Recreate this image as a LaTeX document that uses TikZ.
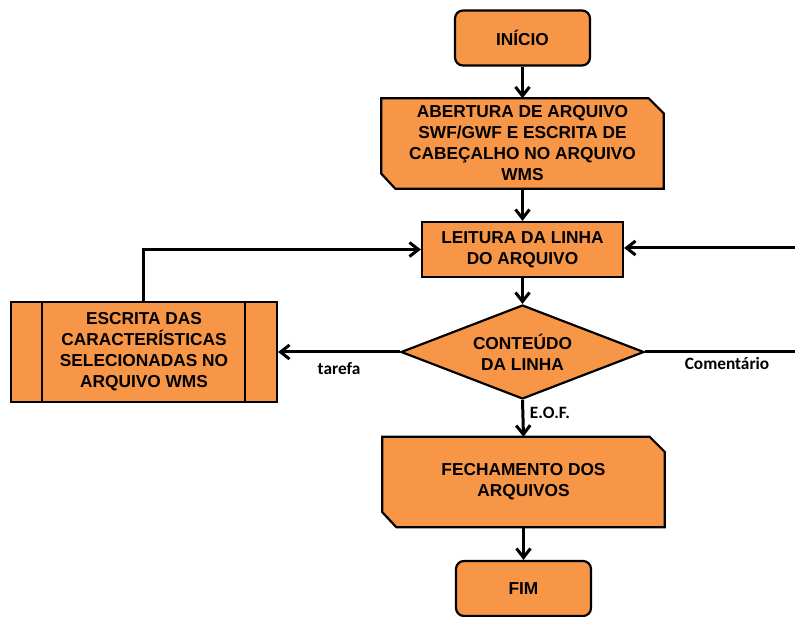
\documentclass[tikz,border=0pt]{standalone}
\usepackage{fontspec}
\setmainfont{Liberation Sans}
\newfontfamily\labelfont{Carlito}
\usetikzlibrary{arrows.meta,shapes.geometric,calc}

\definecolor{boxorange}{HTML}{F79646}

\tikzset{
  boxtext/.style={font=\fontsize{17.3}{21}\selectfont\bfseries, align=center, text=black, inner sep=0pt},
  shapeline/.style={draw=black, line width=2.2pt, fill=boxorange},
  terminal/.style={boxtext, shapeline, rounded corners=8pt, minimum width=135pt, minimum height=55pt},
  plainbox/.style={boxtext, shapeline, minimum width=201pt, minimum height=55pt},
  cardbox/.style={boxtext, minimum width=282pt, minimum height=90pt},
  decision/.style={boxtext, shapeline, diamond, aspect=2.58, minimum width=243pt, minimum height=94pt},
  subproc/.style={boxtext, shapeline, minimum width=266pt, minimum height=100pt},
  flow/.style={draw=black, line width=3pt},
  arrow/.style={flow, -{Straight Barb[length=9pt,width=14pt,line width=3pt]}},
  edgelabel/.style={font=\labelfont\fontsize{17.3}{20}\selectfont\bfseries, inner sep=0pt},
}

% card outline: top-right and bottom-left corners cut off
\newcommand{\cardoutline}[1]{%
  \draw[shapeline] (#1.north west) -- ($(#1.north east)+(-15,0)$)
    -- ($(#1.north east)+(0,15)$) -- (#1.south east)
    -- ($(#1.south west)+(14,0)$) -- ($(#1.south west)+(0,-15)$) -- cycle;}

\begin{document}
\begin{tikzpicture}[x=1pt, y=-1pt]
  \useasboundingbox (0,0) rectangle (795,617);

  % card-shaped boxes: outline first, text on top
  \node[cardbox] (open) at (522.5,143.5) {};
  \cardoutline{open}
  \node[boxtext] at (open.center) {ABERTURA DE ARQUIVO\\SWF/GWF E ESCRITA DE\\CABEÇALHO NO ARQUIVO\\WMS};

  \node[cardbox] (close) at (523.5,482) {};
  \cardoutline{close}
  \node[boxtext] at (close.center) {FECHAMENTO DOS\\ARQUIVOS};

  \node[terminal] (start) at (522.5,38) {INÍCIO};
  \node[plainbox] (read) at (522.5,249.5) {LEITURA DA LINHA\\DO ARQUIVO};
  \node[decision] (content) at (522.5,352) {CONTEÚDO\\DA LINHA};
  \node[subproc] (write) at (144,352) {ESCRITA DAS\\CARACTERÍSTICAS\\SELECIONADAS NO\\ARQUIVO WMS};
  \node[terminal] (stop) at (523.5,588.5) {FIM};

  % side bars of the predefined process
  \draw[line width=2.2pt] ($(write.north west)+(32,0)$) -- ($(write.south west)+(32,0)$);
  \draw[line width=2.2pt] ($(write.north east)+(-33,0)$) -- ($(write.south east)+(-33,0)$);

  % free ends on the right edge
  \coordinate (loopout) at (795,352);
  \coordinate (loopin) at (795,248);

  % main flow
  \draw[arrow] (start.south) -- (open.north);
  \draw[arrow] (open.south) -- (read.north);
  \draw[arrow] (read.south) -- (content.north);
  \draw[arrow] (content.south) -- (close.north);
  \draw[arrow] (close.south) -- (stop.north);

  % branches
  \draw[arrow] (content.west) -- (write.east);
  \draw[arrow] (write.north -| 143,0) |- (read.west);
  \draw[flow] (content.east) -- (loopout);
  \draw[arrow] (loopin) -- (read.east |- loopin);

  % branch labels
  \node[edgelabel] at (339,369) {tarefa};
  \node[edgelabel] at (727,363) {Comentário};
  \node[edgelabel] at (550,413) {E.O.F.};
\end{tikzpicture}
\end{document}
